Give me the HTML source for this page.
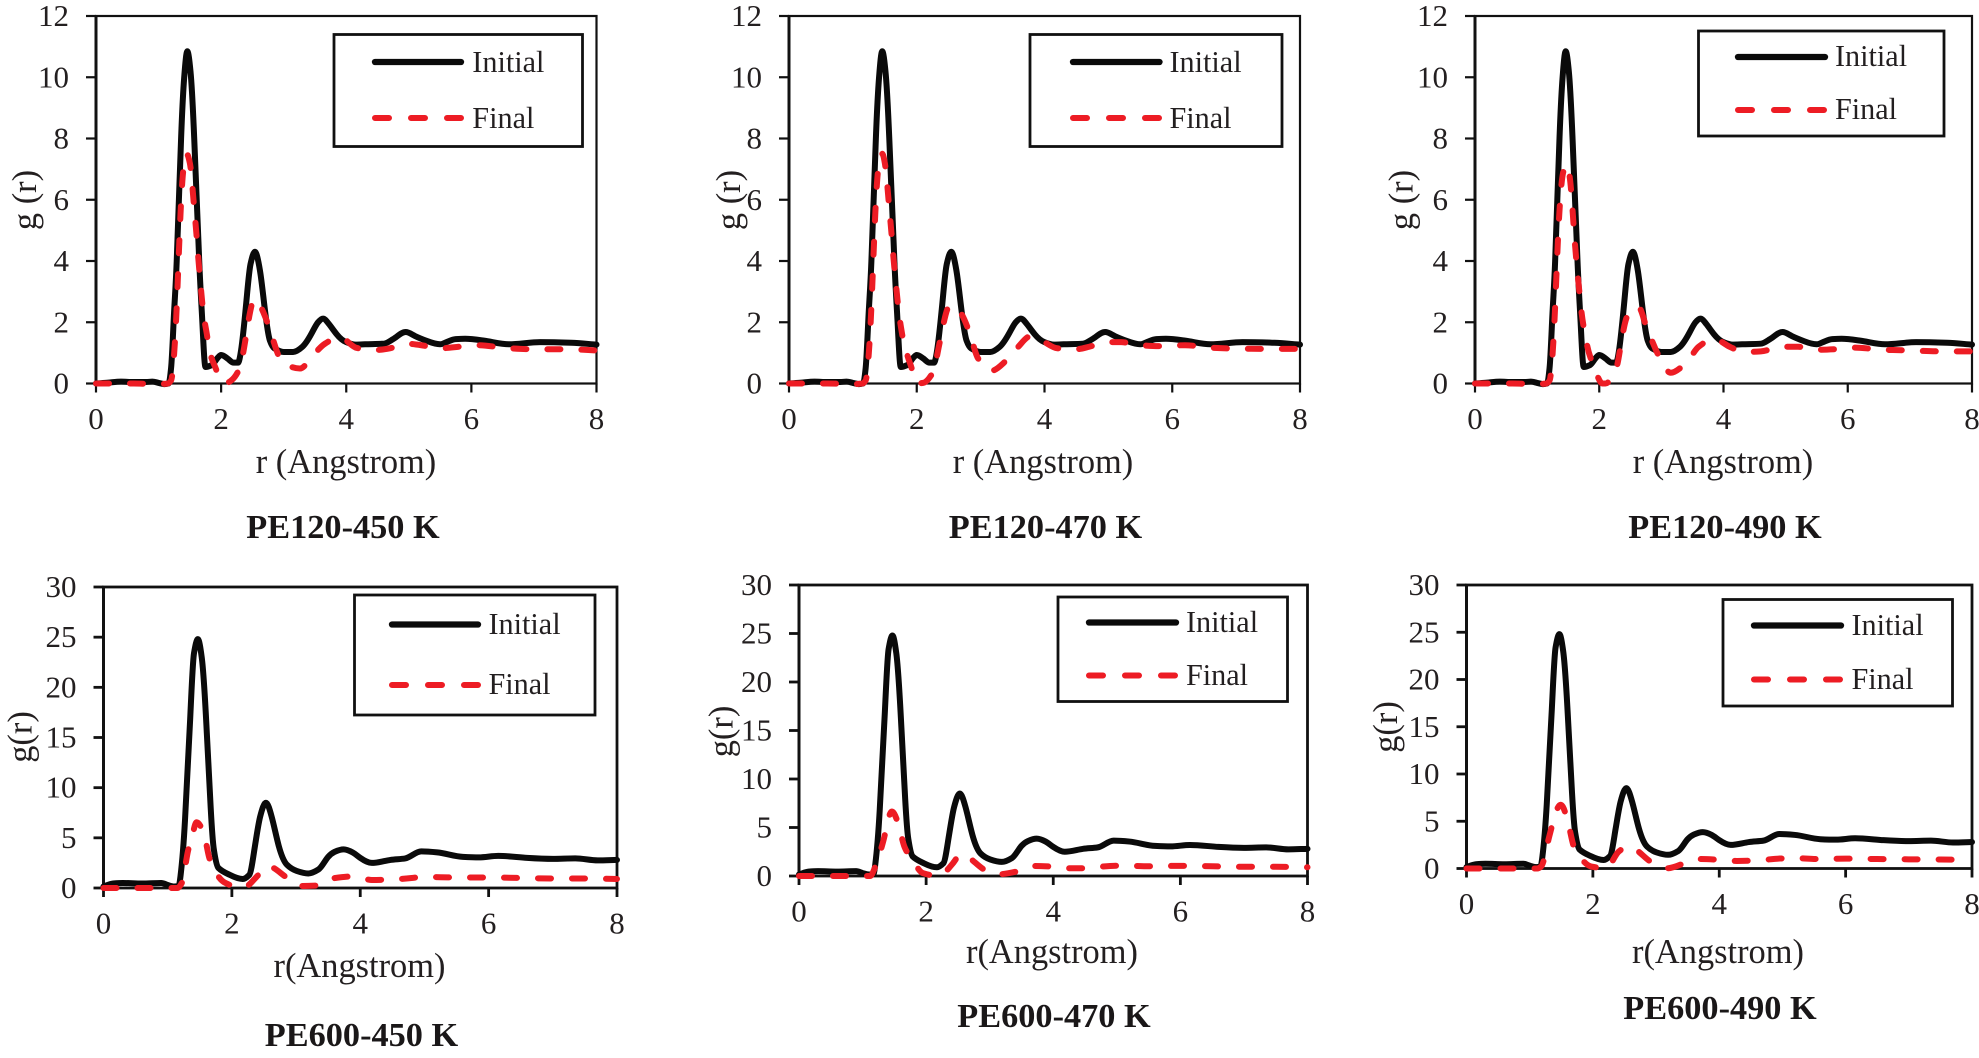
<!DOCTYPE html>
<html lang="en">
<head>
<meta charset="utf-8">
<title>g(r) Initial vs Final — PE120 and PE600</title>
<style>
html,body{margin:0;padding:0;background:#fff;}
body{width:1979px;height:1058px;overflow:hidden;}
svg{display:block;}
text{font-family:"Liberation Serif","Times New Roman",serif;fill:#231f20;}
.tick{font-size:31px;}
.axis-title{font-size:34.4px;}
.leg{font-size:30.2px;}
.panel-title{font-size:34.3px;font-weight:bold;fill:#1a1718;}
.box{fill:#fff;stroke:#111;stroke-width:2.8;}
.lg-i{stroke:#0a0a0a;stroke-width:6.3;stroke-linecap:round;fill:none;}
.lg-f{stroke:#ed1c24;stroke-width:6;stroke-linecap:round;stroke-dasharray:14 22;fill:none;}
</style>
</head>
<body>
<svg id="figure" width="1979" height="1058" viewBox="0 0 1979 1058" xmlns="http://www.w3.org/2000/svg">
  <rect width="1979" height="1058" fill="#fff"/>

  <g id="p1">
    <g class="marks"></g>
    <g>
      <rect class="box" x="334" y="34.5" width="248.5" height="112"/>
      <line class="lg-i" x1="375" x2="461" y1="62" y2="62"/>
      <text class="leg" x="472.3" y="72">Initial</text>
      <line class="lg-f" x1="375" x2="461" y1="118" y2="118"/>
      <text class="leg" x="472.3" y="128">Final</text>
    </g>
    <text class="axis-title" transform="translate(36,200) rotate(-90)" text-anchor="middle">g (r)</text>
    <text class="axis-title" x="346" y="473" text-anchor="middle">r (Angstrom)</text>
    <text class="panel-title" x="343" y="538" text-anchor="middle">PE120-450 K</text>
  </g>

  <g id="p2">
    <g class="marks"></g>
    <g>
      <rect class="box" x="1030" y="34.5" width="252" height="112"/>
      <line class="lg-i" x1="1073" x2="1159.5" y1="62" y2="62"/>
      <text class="leg" x="1169.5" y="72">Initial</text>
      <line class="lg-f" x1="1073" x2="1159.5" y1="118" y2="118"/>
      <text class="leg" x="1169.5" y="128">Final</text>
    </g>
    <text class="axis-title" transform="translate(740,200) rotate(-90)" text-anchor="middle">g (r)</text>
    <text class="axis-title" x="1043" y="473" text-anchor="middle">r (Angstrom)</text>
    <text class="panel-title" x="1045.5" y="538" text-anchor="middle">PE120-470 K</text>
  </g>

  <g id="p3">
    <g class="marks"></g>
    <g>
      <rect class="box" x="1698.5" y="31" width="245.5" height="105"/>
      <line class="lg-i" x1="1738" x2="1825" y1="57" y2="57"/>
      <text class="leg" x="1835" y="66">Initial</text>
      <line class="lg-f" x1="1738" x2="1825" y1="110" y2="110"/>
      <text class="leg" x="1835" y="119">Final</text>
    </g>
    <text class="axis-title" transform="translate(1412.5,200) rotate(-90)" text-anchor="middle">g (r)</text>
    <text class="axis-title" x="1723" y="473" text-anchor="middle">r (Angstrom)</text>
    <text class="panel-title" x="1725" y="538" text-anchor="middle">PE120-490 K</text>
  </g>

  <g id="p4">
    <g class="marks"></g>
    <g>
      <rect class="box" x="354.5" y="595" width="240.5" height="120"/>
      <line class="lg-i" x1="392" x2="478" y1="624.5" y2="624.5"/>
      <text class="leg" x="488.5" y="634">Initial</text>
      <line class="lg-f" x1="392" x2="478" y1="685" y2="685"/>
      <text class="leg" x="488.5" y="694">Final</text>
    </g>
    <text class="axis-title" transform="translate(31.5,737) rotate(-90)" text-anchor="middle">g(r)</text>
    <text class="axis-title" x="359.5" y="977" text-anchor="middle">r(Angstrom)</text>
    <text class="panel-title" x="361.5" y="1046" text-anchor="middle">PE600-450 K</text>
  </g>

  <g id="p5">
    <g class="marks"></g>
    <g>
      <rect class="box" x="1058" y="597" width="229.5" height="104.5"/>
      <line class="lg-i" x1="1089" x2="1176" y1="622.5" y2="622.5"/>
      <text class="leg" x="1186" y="632">Initial</text>
      <line class="lg-f" x1="1089" x2="1176" y1="675.5" y2="675.5"/>
      <text class="leg" x="1186" y="685">Final</text>
    </g>
    <text class="axis-title" transform="translate(732.5,731.5) rotate(-90)" text-anchor="middle">g(r)</text>
    <text class="axis-title" x="1052" y="963" text-anchor="middle">r(Angstrom)</text>
    <text class="panel-title" x="1054" y="1027" text-anchor="middle">PE600-470 K</text>
  </g>

  <g id="p6">
    <g class="marks"></g>
    <g>
      <rect class="box" x="1723" y="599.5" width="229.5" height="106.5"/>
      <line class="lg-i" x1="1754" x2="1841" y1="625.5" y2="625.5"/>
      <text class="leg" x="1851.5" y="635">Initial</text>
      <line class="lg-f" x1="1754" x2="1841" y1="679.5" y2="679.5"/>
      <text class="leg" x="1851.5" y="689">Final</text>
    </g>
    <text class="axis-title" transform="translate(1397,727) rotate(-90)" text-anchor="middle">g(r)</text>
    <text class="axis-title" x="1718" y="963" text-anchor="middle">r(Angstrom)</text>
    <text class="panel-title" x="1720" y="1019" text-anchor="middle">PE600-490 K</text>
  </g>
</svg>

<script>
// ---- tick labels ----
var xTicks = [0, 2, 4, 6, 8];
var yTicksPE120 = [0, 2, 4, 6, 8, 10, 12];
var yTicksPE600 = [0, 5, 10, 15, 20, 25, 30];

// ---- PE120 Initial (same curve in all three temperatures) ----
var pe120InitialR = [0,0.2,0.4,0.6,0.8,0.9,1.0,1.1,1.16,1.2,1.24,1.29,1.36,1.41,1.46,1.51,1.57,1.65,1.70,1.75,1.85,1.95,2.0,2.1,2.2,2.27,2.32,2.4,2.47,2.54,2.62,2.7,2.78,2.85,3.0,3.15,3.3,3.45,3.55,3.63,3.72,3.85,4.0,4.15,4.3,4.6,4.75,4.95,5.1,5.3,5.5,5.6,5.75,5.9,6.2,6.6,7.1,7.6,8];
var pe120InitialG = [0,0.03,0.06,0.05,0.05,0.06,0.02,-0.02,0,0.5,2,4,8,10,10.85,10.2,8,4,2,0.54,0.6,0.85,0.93,0.82,0.68,0.68,1.1,2.6,3.9,4.3,3.7,2.4,1.4,1.15,1.03,1.03,1.2,1.65,2.0,2.12,1.95,1.6,1.35,1.27,1.28,1.3,1.45,1.68,1.55,1.38,1.28,1.35,1.45,1.46,1.4,1.28,1.35,1.33,1.27];

// ---- PE120 Final ----
var pe120_450FinalR = [0,0.6,1.0,1.15,1.2,1.25,1.3,1.35,1.41,1.45,1.5,1.55,1.62,1.7,1.78,1.82,1.92,2.0,2.06,2.15,2.28,2.37,2.46,2.53,2.68,2.78,3.0,3.26,3.45,3.66,3.9,4.17,4.44,4.7,4.95,5.2,5.5,5.8,6.1,6.6,7,7.5,8];
var pe120_450FinalG = [0,0,-0.02,0,0.1,1,3,5.5,7.2,7.5,7.2,6.2,4.5,2.6,1.5,1.03,0.46,0.12,0,0.08,0.43,1.2,2.3,2.75,2.3,1.75,0.65,0.49,0.87,1.3,1.5,1.16,1.09,1.15,1.3,1.25,1.15,1.2,1.25,1.15,1.12,1.12,1.08];

var pe120_470FinalR = [0,0.6,1.0,1.15,1.2,1.25,1.3,1.35,1.41,1.46,1.5,1.55,1.62,1.7,1.78,1.85,1.92,2.0,2.1,2.25,2.36,2.52,2.63,2.85,2.96,3.17,3.35,3.59,3.79,4.0,4.2,4.5,4.7,5.0,5.2,5.5,5.8,6.2,6.6,7,7.5,8];
var pe120_470FinalG = [0,0,-0.02,0,0.1,1,3,5.5,7.2,7.5,7.2,6.2,4.5,2.7,1.5,0.95,0.5,0,0.02,0.35,1.35,2.55,2.45,1.5,0.82,0.42,0.65,1.2,1.55,1.35,1.15,1.12,1.2,1.35,1.35,1.25,1.22,1.25,1.17,1.14,1.13,1.13];

var pe120_490FinalR = [0,0.6,1.0,1.15,1.2,1.25,1.3,1.35,1.42,1.47,1.52,1.6,1.7,1.8,1.9,1.98,2.05,2.1,2.28,2.35,2.45,2.55,2.63,2.75,2.9,3.0,3.15,3.3,3.45,3.6,3.85,4.1,4.35,4.6,4.95,5.2,5.5,5.8,6.1,6.6,7,7.5,8];
var pe120_490FinalG = [0,0,-0.02,0,0.1,1,3,5.3,6.9,7.15,6.8,4.8,2.6,1.3,0.6,0.2,0,0,0.55,1.3,2.2,2.45,2.5,1.9,1.15,0.75,0.35,0.5,0.8,1.2,1.45,1.2,1.03,1.05,1.2,1.2,1.1,1.12,1.17,1.1,1.08,1.05,1.05];

// ---- PE600 Initial (same curve in all three temperatures) ----
var pe600InitialR = [0,0.15,0.3,0.6,0.9,1.0,1.1,1.17,1.2,1.27,1.35,1.41,1.47,1.53,1.61,1.67,1.72,1.79,1.97,2.17,2.27,2.36,2.44,2.53,2.62,2.73,2.86,3.01,3.19,3.35,3.5,3.6,3.74,3.88,4,4.18,4.47,4.7,4.95,5.2,5.6,5.85,6.15,6.6,7,7.35,7.7,8];
var pe600InitialG = [0.15,0.45,0.5,0.45,0.5,0.3,0.15,0.2,1.2,6.8,16.8,23.4,24.8,23,15.4,8,3.8,2,1.3,0.9,1.3,4.2,7.1,8.5,7.1,4.2,2.3,1.7,1.45,1.85,3.1,3.6,3.85,3.55,3.0,2.5,2.8,2.95,3.65,3.55,3.1,3.05,3.2,3.0,2.9,2.95,2.75,2.8];

// ---- PE600 Final ----
var pe600_450FinalR = [0,0.6,1.0,1.15,1.22,1.31,1.38,1.45,1.56,1.64,1.74,1.9,2.16,2.39,2.55,2.83,3.06,3.35,3.61,3.9,4.18,4.5,4.8,5,5.5,6,6.5,7,7.5,8];
var pe600_450FinalG = [0,0,0,0,0.5,3.5,5.1,6.55,5.5,3.2,1.65,0.5,0,1.15,2.2,1.15,0.2,0.25,1.0,1.15,0.8,0.85,1,1.1,1.05,1.05,1.0,0.95,0.95,0.9];

var pe600_470FinalR = [0,0.6,1.0,1.12,1.19,1.33,1.46,1.56,1.66,1.79,1.95,2.19,2.42,2.55,2.65,2.88,3.11,3.45,3.68,3.98,4.2,4.54,4.77,5.1,5.5,6,6.5,7,7.5,8];
var pe600_470FinalG = [0,0,0,0,0.8,3.7,6.65,5.4,3,1.65,0.3,0,1.3,2.25,2,0.8,0.17,0.5,1.03,0.97,0.8,0.8,0.97,1.07,1.0,1.05,1.0,0.95,0.95,0.9];

var pe600_490FinalR = [0,0.6,1.0,1.12,1.18,1.31,1.49,1.61,1.71,1.98,2.21,2.41,2.57,2.68,2.91,3.18,3.48,3.71,4.01,4.28,4.61,4.88,5.18,5.6,6,6.5,7,7.5,8];
var pe600_490FinalG = [0,0,0,0,0.2,3.4,6.75,4.8,2.15,0.2,0.03,1.8,2.33,2,0.74,0.03,0.64,1,0.92,0.8,0.85,1.02,1.1,1.0,1.05,1,0.97,0.95,0.92];

var SVGNS = 'http://www.w3.org/2000/svg';

function monotonePath(pts) {
  var n = pts.length, i, m = [], d = [];
  for (i = 0; i < n - 1; i++) {
    m.push((pts[i + 1][1] - pts[i][1]) / (pts[i + 1][0] - pts[i][0]));
  }
  d[0] = m[0];
  d[n - 1] = m[n - 2];
  for (i = 1; i < n - 1; i++) {
    if (m[i - 1] * m[i] <= 0) {
      d[i] = 0;
    } else {
      var h0 = pts[i][0] - pts[i - 1][0], h1 = pts[i + 1][0] - pts[i][0];
      var p = (m[i - 1] * h1 + m[i] * h0) / (h0 + h1);
      d[i] = Math.sign(m[i]) * Math.min(Math.abs(m[i - 1]) * 1.6, Math.abs(m[i]) * 1.6, Math.abs(p) * 1.15);
    }
  }
  var s = 'M' + pts[0][0].toFixed(2) + ' ' + pts[0][1].toFixed(2);
  for (i = 0; i < n - 1; i++) {
    var h = (pts[i + 1][0] - pts[i][0]) / 3;
    s += 'C' + (pts[i][0] + h).toFixed(2) + ' ' + (pts[i][1] + d[i] * h).toFixed(2) + ' ' +
         (pts[i + 1][0] - h).toFixed(2) + ' ' + (pts[i + 1][1] - d[i + 1] * h).toFixed(2) + ' ' +
         pts[i + 1][0].toFixed(2) + ' ' + pts[i + 1][1].toFixed(2);
  }
  return s;
}

function drawPanel(id, box, yTicks, iR, iG, fR, fG) {
  var host = document.querySelector('#' + id + ' .marks');
  var yMax = yTicks[yTicks.length - 1];
  var xScale = function (r) { return box.left + (r / 8) * (box.right - box.left); };
  var yScale = function (g) { return box.bottom - (g / yMax) * (box.bottom - box.top); };

  var frame = document.createElementNS(SVGNS, 'rect');
  
  
  frame.setAttribute('x', box.left);
  frame.setAttribute('y', box.top);
  frame.setAttribute('width', box.right - box.left);
  frame.setAttribute('height', box.bottom - box.top);
  frame.setAttribute('fill', 'none');
  frame.setAttribute('stroke', '#111');
  frame.setAttribute('stroke-width', box.sw);
  host.appendChild(frame);

  var yAxisLine = document.createElementNS(SVGNS, 'line');
  
  
  yAxisLine.setAttribute('x1', box.left);
  yAxisLine.setAttribute('x2', box.left);
  yAxisLine.setAttribute('y1', box.top);
  yAxisLine.setAttribute('y2', box.bottom);
  yAxisLine.setAttribute('stroke', '#111');
  yAxisLine.setAttribute('stroke-width', '3');
  host.appendChild(yAxisLine);

  xTicks.forEach(function (t) {
    var tk = document.createElementNS(SVGNS, 'line');
    
    
    tk.setAttribute('x1', xScale(t));
    tk.setAttribute('x2', xScale(t));
    tk.setAttribute('y1', box.bottom);
    tk.setAttribute('y2', box.bottom + 9);
    tk.setAttribute('stroke', '#111');
    tk.setAttribute('stroke-width', box.sw);
    host.appendChild(tk);
    var lb = document.createElementNS(SVGNS, 'text');
    
    
    lb.setAttribute('class', 'tick');
    lb.setAttribute('x', xScale(t));
    lb.setAttribute('y', box.bottom + 45.5);
    lb.setAttribute('text-anchor', 'middle');
    lb.textContent = t;
    host.appendChild(lb);
  });

  yTicks.forEach(function (t) {
    var tk = document.createElementNS(SVGNS, 'line');
    
    
    tk.setAttribute('x1', box.left - 10);
    tk.setAttribute('x2', box.left);
    tk.setAttribute('y1', yScale(t));
    tk.setAttribute('y2', yScale(t));
    tk.setAttribute('stroke', '#111');
    tk.setAttribute('stroke-width', box.sw);
    host.appendChild(tk);
    var lb = document.createElementNS(SVGNS, 'text');
    
    
    lb.setAttribute('class', 'tick');
    lb.setAttribute('x', box.left - 27);
    lb.setAttribute('y', yScale(t) + 10);
    lb.setAttribute('text-anchor', 'end');
    lb.textContent = t;
    host.appendChild(lb);
  });

  var initialPts = iR.map(function (r, i) { return [xScale(r), yScale(iG[i])]; });
  var initialLine = document.createElementNS(SVGNS, 'path');
  
  
  initialLine.setAttribute('d', monotonePath(initialPts));
  initialLine.setAttribute('fill', 'none');
  initialLine.setAttribute('stroke', '#0a0a0a');
  initialLine.setAttribute('stroke-width', '6');
  initialLine.setAttribute('stroke-linecap', 'round');
  initialLine.setAttribute('stroke-linejoin', 'round');
  host.appendChild(initialLine);

  var finalPts = fR.map(function (r, i) { return [xScale(r), yScale(fG[i])]; });
  var finalLine = document.createElementNS(SVGNS, 'path');
  
  
  finalLine.setAttribute('d', monotonePath(finalPts));
  finalLine.setAttribute('fill', 'none');
  finalLine.setAttribute('stroke', '#ed1c24');
  finalLine.setAttribute('stroke-width', '6');
  finalLine.setAttribute('stroke-linecap', 'round');
  finalLine.setAttribute('stroke-linejoin', 'round');
  finalLine.setAttribute('stroke-dasharray', '13 21');
  host.appendChild(finalLine);
}

drawPanel('p1', {left: 96, right: 596.5, top: 16, bottom: 383.5, sw: 2.2}, yTicksPE120, pe120InitialR, pe120InitialG, pe120_450FinalR, pe120_450FinalG);
drawPanel('p2', {left: 789, right: 1300, top: 16, bottom: 383.5, sw: 2.2}, yTicksPE120, pe120InitialR, pe120InitialG, pe120_470FinalR, pe120_470FinalG);
drawPanel('p3', {left: 1475, right: 1972, top: 16, bottom: 383.5, sw: 2.2}, yTicksPE120, pe120InitialR, pe120InitialG, pe120_490FinalR, pe120_490FinalG);
drawPanel('p4', {left: 103.5, right: 617, top: 587, bottom: 888, sw: 2.8}, yTicksPE600, pe600InitialR, pe600InitialG, pe600_450FinalR, pe600_450FinalG);
drawPanel('p5', {left: 799, right: 1307.5, top: 585, bottom: 876, sw: 2.8}, yTicksPE600, pe600InitialR, pe600InitialG, pe600_470FinalR, pe600_470FinalG);
drawPanel('p6', {left: 1466.5, right: 1972, top: 585, bottom: 868.5, sw: 2.8}, yTicksPE600, pe600InitialR, pe600InitialG, pe600_490FinalR, pe600_490FinalG);
</script>
</body>
</html>
